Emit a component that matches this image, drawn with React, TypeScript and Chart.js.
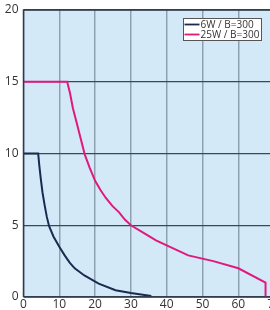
import React, { useEffect, useRef } from "react";
import { Chart, registerables } from "chart.js";

Chart.register(...registerables);

const xTicks = [0, 10, 20, 30, 40, 50, 60, 70];
const yTicks = [0, 5, 10, 15, 20];

const label6W = "6W / B=300";
const x6W = [0, 4.1, 4.4, 4.8, 5.3, 5.9, 6.5, 7.15, 8.4, 10, 11.5, 12.9, 14.3, 17, 21, 25.7, 30, 35.7];
const y6W = [10, 10, 9.2, 8.3, 7.3, 6.4, 5.6, 4.93, 4.2, 3.5, 2.9, 2.4, 2.0, 1.5, 0.93, 0.47, 0.28, 0.07];

const label25W = "25W / B=300";
const x25W = [0, 12.2, 13, 13.8, 14.8, 15.7, 17.1, 18.5, 20, 21.5, 23, 24.8, 26.7, 28.3, 30, 34, 37, 40, 46, 53, 60, 67.6, 67.6];
const y25W = [15, 15, 14.2, 13.15, 12.2, 11.3, 9.94, 9.0, 8.1, 7.45, 6.9, 6.35, 5.9, 5.4, 5.0, 4.4, 3.95, 3.6, 2.9, 2.5, 2.0, 1.0, 0];

const color6W = "#1b2a4e";
const color25W = "#e0197d";

const bgPlugin = {
  id: "bgPlugin",
  beforeDraw(chart: any) {
    const { ctx, chartArea } = chart;
    ctx.save();
    ctx.fillStyle = "#d3e9f8";
    ctx.fillRect(chartArea.left, chartArea.top, chartArea.right - chartArea.left, chartArea.bottom - chartArea.top);
    ctx.restore();
  },
  afterDraw(chart: any) {
    const { ctx, chartArea } = chart;
    ctx.save();
    ctx.strokeStyle = "#2e3b4c";
    ctx.lineWidth = 1.5;
    ctx.beginPath();
    ctx.moveTo(chartArea.left, chartArea.bottom);
    ctx.lineTo(chartArea.left, chartArea.top);
    ctx.lineTo(chartArea.right, chartArea.top);
    ctx.moveTo(chartArea.left, chartArea.bottom);
    ctx.lineTo(chartArea.right, chartArea.bottom);
    ctx.stroke();

    // legend box
    const bx = 183.5, by = 18.5, bw = 78, bh = 22;
    ctx.fillStyle = "#ffffff";
    ctx.fillRect(bx, by, bw, bh);
    ctx.strokeStyle = "#555";
    ctx.lineWidth = 1;
    ctx.strokeRect(bx, by, bw, bh);
    ctx.font = "10px 'Open Sans'";
    ctx.textBaseline = "middle";
    ctx.textAlign = "left";
    chart.data.datasets.forEach((ds: any, i: number) => {
      const yy = by + 6 + i * 10;
      ctx.strokeStyle = ds.borderColor;
      ctx.lineWidth = 1.8;
      ctx.beginPath();
      ctx.moveTo(bx + 1, yy);
      ctx.lineTo(bx + 16, yy);
      ctx.stroke();
      ctx.fillStyle = "#333";
      ctx.fillText(ds.label, bx + 17, yy + 0.5);
    });
    ctx.restore();
  },
};

export default function App() {
  const ref = useRef<HTMLCanvasElement>(null);
  useEffect(() => {
    document.body.style.margin = "0";
    document.body.style.overflow = "hidden";
    const toPts = (xs: number[], ys: number[]) => xs.map((x, i) => ({ x, y: ys[i] }));
    const chart = new Chart(ref.current!, {
      type: "line",
      data: {
        datasets: [
          {
            label: label6W,
            data: toPts(x6W, y6W),
            borderColor: color6W,
            borderWidth: 2,
            pointRadius: 0,
            tension: 0,
            fill: false,
          },
          {
            label: label25W,
            data: toPts(x25W, y25W),
            borderColor: color25W,
            borderWidth: 2,
            pointRadius: 0,
            tension: 0,
            fill: false,
          },
        ],
      },
      options: {
        animation: false,
        responsive: false,
        layout: { padding: { top: 10, left: 0, right: 0, bottom: 0 } },
        plugins: { legend: { display: false }, tooltip: { enabled: false } },
        scales: {
          x: {
            type: "linear",
            min: 0,
            max: 70,
            afterBuildTicks: (s: any) => {
              s.ticks = xTicks.map((v) => ({ value: v }));
            },
            afterFit: (s: any) => {
              s.height = 13;
            },
            ticks: { color: "#333", font: { family: "'Open Sans'", size: 12 }, padding: 0, maxRotation: 0 },
            grid: { color: "#8fa1b1", lineWidth: 1.5, drawTicks: false },
            border: { display: false },
          },
          y: {
            min: 0,
            max: 20,
            afterBuildTicks: (s: any) => {
              s.ticks = yTicks.map((v) => ({ value: v }));
            },
            afterFit: (s: any) => {
              s.width = 23.5;
              s.paddingTop = 0;
              s.paddingBottom = 0;
            },
            ticks: { color: "#333", font: { family: "'Open Sans'", size: 12 }, padding: 5 },
            grid: { color: "#3a4858", lineWidth: 1.2, drawTicks: false },
            border: { display: false },
          },
        },
      },
      plugins: [bgPlugin],
    });
    return () => chart.destroy();
  }, []);
  return <canvas ref={ref} width={281} height={310} style={{ display: "block" }} />;
}
